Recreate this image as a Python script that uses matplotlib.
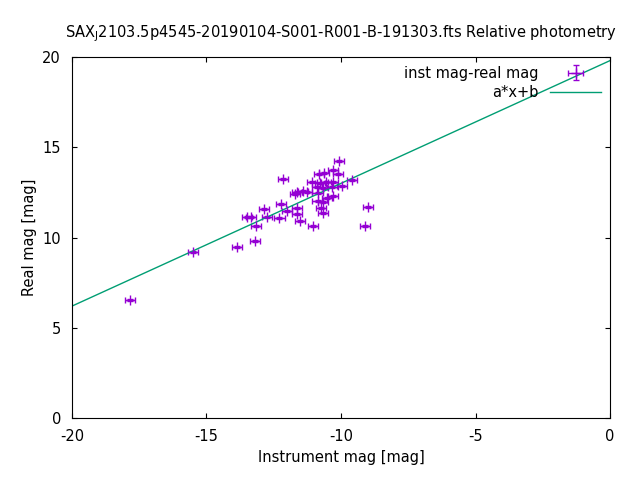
import matplotlib
matplotlib.use("Agg")
import matplotlib.pyplot as plt
import numpy as np
plt.rcParams['axes.unicode_minus'] = False

inst = [-10.07,-10.30,-10.11,-10.82,-10.63,-12.16,-11.08,-10.78,-10.56,-10.30,-9.59,-9.96,-10.89,-10.67,-10.33,
        -11.41,-11.64,-11.26,-11.71,-10.86,-10.30,-10.52,-10.86,-10.67,-12.23,-9.00,-12.86,-11.64,-12.01,-10.74,
        -10.67,-11.64,-13.49,-12.75,-13.35,-12.30,-11.52,-13.16,-11.04,-9.11,-13.87,-13.20,-17.84,-15.50]
real = [14.24,13.74,13.52,13.52,13.57,13.24,13.07,13.02,13.07,13.07,13.19,12.85,12.80,12.74,12.80,
        12.58,12.52,12.52,12.41,12.47,12.30,12.19,12.02,11.97,11.86,11.69,11.58,11.63,11.47,11.63,
        11.36,11.30,11.14,11.14,11.14,11.08,10.91,10.64,10.64,10.64,9.47,9.81,6.54,9.20]
xerr = [0.2]*len(inst)
yerr = [0.05]*len(inst)
a, b = 0.68, 19.8

fig = plt.figure(figsize=(6.4,4.8), dpi=100)
ax = fig.add_axes([72/640, 1-418/480, 538/640, 361/480])
xs = np.array([-20, 0])
eb = ax.errorbar(inst, real, xerr=xerr, yerr=yerr, fmt='+', color='#9400d3', ms=7, elinewidth=1, capsize=2, label='inst mag-real mag')
ln, = ax.plot(xs, a*xs+b, color='#009e73', lw=1, label='a*x+b')
ax.set_xlim(-20, 0); ax.set_ylim(0, 20)
ax.set_xticks([-20,-15,-10,-5,0]); ax.set_yticks([0,5,10,15,20])
ax.tick_params(direction='in', top=True, right=True, labelsize=10.5, pad=8)
ax.set_xlabel('Instrument mag [mag]', fontsize=10.5); ax.set_ylabel('Real mag [mag]', fontsize=10.5)
ax.set_title(r'SAX$_\mathregular{J}$2103.5p4545-20190104-S001-R001-B-191303.fts Relative photometry', fontsize=10.5, pad=14)
ax.legend([eb, ln], ['inst mag-real mag', 'a*x+b'], loc='upper right', frameon=False, markerfirst=False,
          handlelength=3.5, fontsize=10.5, borderaxespad=0.2, labelspacing=0.3)
fig.savefig('out.png')
